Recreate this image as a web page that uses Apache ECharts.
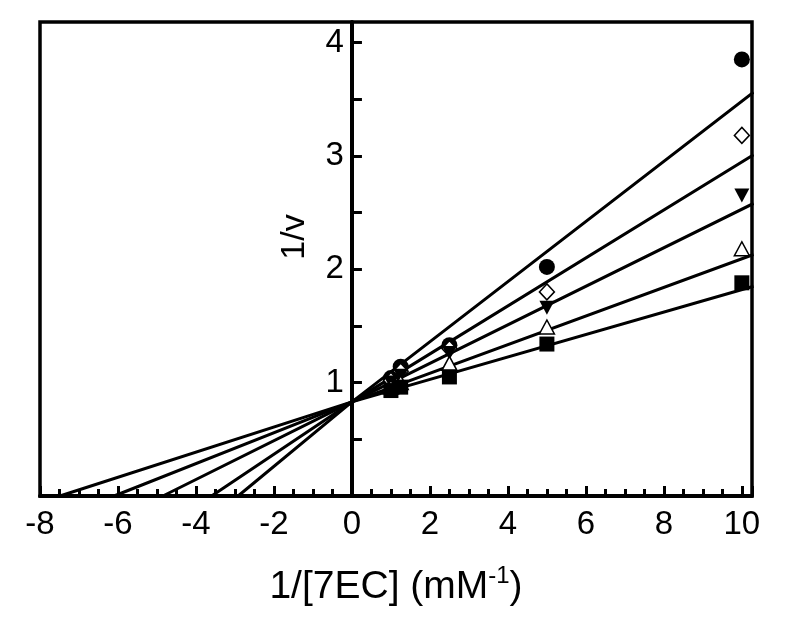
<!DOCTYPE html>
<html>
<head>
<meta charset="utf-8">
<script src="https://cdn.jsdelivr.net/npm/echarts@6/dist/echarts.min.js"></script>
<style>html,body{margin:0;padding:0;background:#fff}#c{width:800px;height:629px}</style>
</head>
<body>
<div id="c"></div>
<script>
// 1/[S] values (mM^-1)
const xVals = [1, 1.25, 2.5, 5, 10];
// 1/v values per series
const circleVals  = [1.04, 1.14, 1.33, 2.02, 3.85];
const diamondVals = [1.02, 1.10, 1.30, 1.80, 3.18];
const downTriVals = [1.00, 1.06, 1.26, 1.66, 2.65];
const upTriVals   = [0.96, 1.00, 1.17, 1.49, 2.18];
const squareVals  = [0.93, 0.96, 1.05, 1.34, 1.88];
// fitted lines: x-intercepts, common y-intercept, right end values
const fitXLeft = [-2.92, -3.6, -4.85, -6.1, -7.49];
const fitIntercept = 0.83;
const fitXRight = 10.3;
const fitYRight = [3.56, 3.01, 2.58, 2.13, 1.85];
const xTicks = [-8, -6, -4, -2, 0, 2, 4, 6, 8, 10];
const yTicks = [1, 2, 3, 4];

const FONT = 'Liberation Sans, Arial, sans-serif';
const pts = vals => xVals.map((x, i) => [x, vals[i]]);

const X_MIN = -8, X_MAX = 10.26;
const GRID = { left: 40, right: 48, top: 22, bottom: 133 };
const gridWidth = 800 - GRID.left - GRID.right;
// shift the y axis (line, ticks, labels) to x = 0
const yAxisOffset = -((0 - X_MIN) / (X_MAX - X_MIN)) * gridWidth;

const lineSeries = fitXLeft.map((xl, i) => ({
  type: 'line',
  data: [[xl, 0], [0, fitIntercept], [fitXRight, fitYRight[i]]],
  symbol: 'none',
  lineStyle: { color: '#000', width: 3 },
  z: 3,
  silent: true
}));

const markerDefs = [
  { vals: circleVals, symbol: 'circle', size: 16, fill: '#000', rot: 0 },
  { vals: diamondVals, symbol: 'diamond', size: [15, 16], fill: '#fff', rot: 0 },
  { vals: downTriVals, symbol: 'triangle', size: [15, 14], fill: '#000', rot: 180 },
  { vals: upTriVals, symbol: 'triangle', size: [15, 14], fill: '#fff', rot: 0 },
  { vals: squareVals, symbol: 'rect', size: 15, fill: '#000', rot: 0 }
];
const scatterSeries = markerDefs.map((m, i) => ({
  type: 'scatter',
  data: pts(m.vals),
  symbol: m.symbol,
  symbolSize: m.size,
  symbolRotate: m.rot,
  itemStyle: { color: m.fill, borderColor: '#000', borderWidth: m.fill === '#fff' ? 1.5 : 0, opacity: 1 },
  z: 4 + i,
  silent: true
}));

const chart = echarts.init(document.getElementById('c'), null, { renderer: 'canvas' });
chart.setOption({
  animation: false,
  backgroundColor: '#fff',
  grid: Object.assign({ containLabel: false, outerBoundsMode: 'none', show: true, borderColor: '#000', borderWidth: 3.5, backgroundColor: 'transparent' }, GRID),
  xAxis: {
    type: 'value', min: X_MIN, max: X_MAX, interval: 2,
    axisLine: { onZero: true, lineStyle: { color: '#000', width: 4 } },
    axisTick: { inside: true, length: 10, lineStyle: { color: '#000', width: 3 } },
    minorTick: { show: true, splitNumber: 4, length: 7, lineStyle: { color: '#000', width: 3 } },
    splitLine: { show: false },
    axisLabel: {
      fontSize: 33, color: '#000', fontFamily: FONT, margin: 12, showMaxLabel: false,
      formatter: v => xTicks.indexOf(v) >= 0 ? String(v) : ''
    },
    name: '{a|1/[7EC] (mM}{s|-1}{a|)}',
    nameLocation: 'middle', nameGap: 68,
    nameTextStyle: {
      rich: {
        a: { fontSize: 39, fontFamily: FONT, color: '#000', lineHeight: 46 },
        s: { fontSize: 24, fontFamily: FONT, color: '#000', lineHeight: 46, verticalAlign: 'top', padding: [0, 0, 16, 0] }
      }
    }
  },
  yAxis: {
    type: 'value', min: 0, max: 4.18, interval: 0.5,
    offset: yAxisOffset,
    axisLine: { onZero: false, lineStyle: { color: '#000', width: 4 } },
    axisTick: { inside: true, length: 10, lineStyle: { color: '#000', width: 3 } },
    splitLine: { show: false },
    axisLabel: {
      fontSize: 33, color: '#000', fontFamily: FONT, margin: 8, showMaxLabel: false,
      formatter: v => yTicks.indexOf(v) >= 0 ? String(v) : ''
    },
    name: '1/v', nameLocation: 'middle', nameGap: 40,
    nameTextStyle: { fontSize: 34, fontFamily: FONT, color: '#000', padding: [0, 0, 0, 44] }
  },
  series: lineSeries.concat(scatterSeries)
});
</script>
</body>
</html>
